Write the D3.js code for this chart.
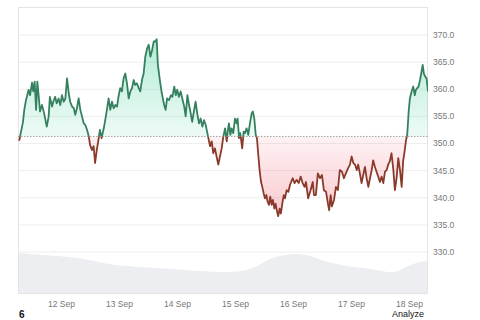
<!doctype html>
<html lang="en">
<head>
<meta charset="utf-8">
<title>Price chart</title>
<script src="https://cdn.jsdelivr.net/npm/d3@7"></script>
<style>
    body { margin: 0; background: #fff; }
    svg { display: block; font-family: "Liberation Sans", Arial, sans-serif; }
</style>
</head>
<body>
<script>

// hours are counted from 12 Sep 00:00
var startDay = new Date(2024, 8, 12);

var hours = [-17.3, -15.8, -15.2, -14.5, -13.4, -12.8, -12.0, -11.5, -10.9, -10.3, -9.8, -9.2, -8.7, -7.9, -7.0,
    -5.9, -5.1, -4.6, -3.7, -3.2, -2.4, -1.8, -1.0, -0.3, 0.4, 1.1, 1.8, 2.5, 3.2, 3.8, 4.6, 5.3, 5.9, 6.6, 7.3,
    8.0, 8.7, 9.4, 10.1, 10.8, 11.5, 12.0, 12.8, 13.5, 14.1, 14.8, 15.4, 16.1, 16.8, 17.7, 18.3, 19.0, 19.7, 20.4,
    21.1, 21.8, 22.5, 23.2, 23.9, 24.5, 25.2, 25.9, 26.6, 27.3, 28.0, 28.7, 29.4, 30.1, 30.7, 31.4, 32.2, 32.8,
    33.5, 34.2, 34.9, 35.6, 36.3, 37.0, 37.7, 38.4, 39.0, 39.6, 40.1, 41.0, 41.7, 42.7, 43.3, 43.9, 44.7, 45.5,
    46.1, 46.9, 47.5, 48.1, 48.8, 49.5, 50.2, 51.0, 51.6, 52.3, 53.0, 53.7, 54.3, 55.0, 55.7, 56.4, 57.1, 57.8,
    58.5, 59.2, 59.9, 60.3, 61.0, 61.7, 62.4, 63.0, 63.7, 64.4, 65.1, 65.8, 66.5, 67.2, 67.9, 68.6, 69.0, 69.5,
    70.1, 70.6, 71.3, 72.0, 72.7, 73.1, 73.7, 74.2, 75.0, 75.6, 76.1, 76.8, 77.5, 78.2, 78.9, 79.4, 80.0, 80.6,
    81.1, 81.6, 82.2, 82.8, 83.3, 83.9, 84.4, 85.0, 85.5, 86.1, 86.6, 87.2, 87.7, 88.3, 88.8, 89.4, 89.9, 90.5,
    91.0, 91.6, 92.2, 92.7, 93.4, 94.1, 94.8, 95.9, 96.7, 97.5, 98.4, 99.2, 100.0, 100.8, 101.4, 102.3, 103.3,
    104.2, 104.7, 105.5, 106.3, 107.2, 108.0, 108.8, 109.7, 110.5, 111.0, 111.6, 112.1, 113.0, 113.8, 114.6,
    115.4, 116.3, 117.1, 117.9, 118.8, 119.6, 120.3, 121.0, 121.7, 122.4, 123.0, 123.7, 124.4, 125.1, 125.8,
    126.5, 127.2, 127.9, 128.6, 129.2, 129.9, 130.6, 131.3, 132.0, 132.7, 133.4, 134.1, 134.8, 135.4, 136.1,
    136.8, 137.5, 138.2, 138.9, 139.6, 140.3, 141.0, 141.6, 142.2, 142.8, 143.3, 143.9, 144.4, 145.1, 145.8,
    146.4, 146.9, 147.4, 148.0, 148.6, 149.1, 149.7, 150.2, 150.8, 151.3, 151.9];

var prices = [350.5, 353.8, 356.2, 358.0, 359.9, 358.9, 361.2, 359.6, 361.4, 356.2, 361.4, 358.6, 355.9, 357.1, 355.6,
    353.1, 355.0, 358.6, 356.8, 357.7, 358.6, 357.4, 358.3, 357.1, 358.9, 357.7, 358.3, 362.0, 359.3, 357.7, 356.8,
    356.5, 355.3, 356.5, 358.3, 356.2, 355.0, 353.7, 353.4, 352.5, 351.3, 349.8, 348.8, 349.5, 346.4, 348.8, 350.4,
    352.5, 351.0, 352.8, 354.3, 356.2, 358.3, 356.2, 357.7, 356.5, 357.1, 356.8, 358.9, 360.2, 359.6, 362.0, 362.9,
    361.1, 358.3, 359.6, 360.2, 361.7, 360.8, 361.1, 360.2, 359.6, 361.7, 362.9, 366.0, 367.5, 368.2, 366.0, 367.2,
    368.8, 368.8, 369.2, 364.5, 361.4, 359.3, 357.1, 356.2, 358.3, 358.0, 358.9, 358.6, 360.5, 358.9, 359.9, 358.6,
    359.6, 358.3, 356.8, 355.0, 358.9, 357.1, 355.5, 354.0, 355.9, 357.7, 355.5, 353.7, 354.6, 353.1, 354.3, 353.4,
    352.5, 351.0, 349.5, 350.4, 348.2, 349.1, 347.6, 346.1, 347.6, 349.1, 351.3, 352.8, 350.4, 352.2, 353.7, 351.6,
    352.8, 351.9, 354.6, 353.7, 354.6, 351.0, 351.9, 349.1, 352.2, 351.9, 352.8, 351.6, 353.7, 355.5, 355.9, 354.6,
    351.6, 351.0, 348.2, 345.1, 342.9, 342.0, 340.8, 339.9, 340.5, 339.3, 338.7, 340.2, 338.7, 339.6, 338.0, 338.9,
    337.5, 336.6, 338.0, 337.1, 338.9, 340.5, 339.9, 341.4, 341.1, 342.4, 343.6, 342.7, 343.3, 342.7, 343.9, 342.7,
    342.0, 342.9, 339.9, 341.4, 342.9, 340.5, 340.5, 344.5, 343.6, 344.2, 341.4, 341.1, 338.9, 337.7, 340.5, 338.4,
    339.6, 342.0, 341.4, 345.1, 344.8, 343.6, 344.5, 345.4, 346.1, 347.6, 346.4, 346.1, 345.1, 346.1, 344.5, 342.7,
    344.2, 345.7, 343.6, 342.0, 343.6, 345.1, 346.9, 345.7, 344.8, 343.9, 342.9, 343.9, 342.7, 344.8, 345.1, 346.1,
    346.7, 348.2, 345.4, 341.4, 343.6, 347.3, 345.1, 342.0, 346.7, 348.5, 350.6, 351.6, 355.9, 358.3, 359.6, 360.5,
    358.9, 359.9, 360.2, 360.5, 361.7, 362.9, 364.5, 362.9, 362.3, 362.0, 359.6];

var prevClose = 351.3;

var volHours = [-17.5, -8.7, 0, 8, 17.4, 24.4, 41, 51.3, 61.7, 75.3, 81.1, 86.5, 93.5, 98.9, 103, 107.2,
    115.4, 123.7, 132, 136.1, 140.3, 145.7, 151.9];
var volumes = [41, 39, 38, 36, 31, 28, 26, 24, 22, 22, 27, 36, 40, 40, 39, 34, 29, 26, 24, 21, 23, 31, 33];

var priceTicks = [330, 335, 340, 345, 350, 355, 360, 365, 370];

var svgW = 480;
var svgH = 320;
var plot = {left: 18, right: 428, top: 7, bottom: 294};

var toDate = (h) => new Date(startDay.getTime() + h * 3600 * 1000);

var xScale = d3.scaleTime()
               .domain([toDate(-17.8), toDate(151.9)])
               .range([plot.left, plot.right]);

var yScale = d3.scaleLinear()
               .domain([330, 370])
               .range([252, 35]);

var vScale = d3.scaleLinear()
               .domain([0, 40])
               .range([plot.bottom, plot.bottom - 40]);

var series = hours.map((h, i) => ({t: toDate(h), v: prices[i]}));
var volSeries = volHours.map((h, i) => ({t: toDate(h), v: volumes[i]}));

var svg = d3.select("body")
            .append("svg")
            .attr("width", svgW)
            .attr("height", svgH);

var defs = svg.append("defs");
var baseY = yScale(prevClose);

defs.append("clipPath").attr("id", "clipUp")
    .append("rect")
    .attr("x", plot.left).attr("y", plot.top)
    .attr("width", plot.right - plot.left).attr("height", baseY - plot.top);
defs.append("clipPath").attr("id", "clipDown")
    .append("rect")
    .attr("x", plot.left).attr("y", baseY)
    .attr("width", plot.right - plot.left).attr("height", plot.bottom - baseY);

var gUp = defs.append("linearGradient")
              .attr("id", "gradUp")
              .attr("gradientUnits", "userSpaceOnUse")
              .attr("x1", 0).attr("x2", 0)
              .attr("y1", yScale(370)).attr("y2", baseY);
gUp.append("stop").attr("offset", 0).attr("stop-color", "rgb(40,200,140)").attr("stop-opacity", 0.36);
gUp.append("stop").attr("offset", 1).attr("stop-color", "rgb(40,200,140)").attr("stop-opacity", 0.08);

var gDown = defs.append("linearGradient")
                .attr("id", "gradDown")
                .attr("gradientUnits", "userSpaceOnUse")
                .attr("x1", 0).attr("x2", 0)
                .attr("y1", baseY).attr("y2", yScale(336));
gDown.append("stop").attr("offset", 0).attr("stop-color", "rgb(238,70,90)").attr("stop-opacity", 0.07);
gDown.append("stop").attr("offset", 1).attr("stop-color", "rgb(238,70,90)").attr("stop-opacity", 0.3);

// grid
svg.append("g")
   .selectAll("line")
   .data(priceTicks)
   .enter()
   .append("line")
   .attr("x1", plot.left)
   .attr("x2", plot.right)
   .attr("y1", d => yScale(d))
   .attr("y2", d => yScale(d))
   .attr("stroke", "#eeeeee")
   .attr("stroke-width", 1);

// volume
svg.append("path")
   .datum(volSeries)
   .attr("fill", "#eceef1")
   .attr("d", d3.area()
                .curve(d3.curveBasis)
                .x(d => xScale(d.t))
                .y0(plot.bottom)
                .y1(d => vScale(d.v)));

svg.append("rect")
   .attr("x", plot.left + 0.5)
   .attr("y", plot.top + 0.5)
   .attr("width", plot.right - plot.left - 1)
   .attr("height", plot.bottom - plot.top - 1)
   .attr("fill", "none")
   .attr("stroke", "#e4e4e4");

var area = d3.area()
             .x(d => xScale(d.t))
             .y0(baseY)
             .y1(d => yScale(d.v));

var line = d3.line()
             .x(d => xScale(d.t))
             .y(d => yScale(d.v));

svg.append("path")
   .datum(series)
   .attr("clip-path", "url(#clipUp)")
   .attr("fill", "url(#gradUp)")
   .attr("d", area);

svg.append("path")
   .datum(series)
   .attr("clip-path", "url(#clipDown)")
   .attr("fill", "url(#gradDown)")
   .attr("d", area);

svg.append("line")
   .attr("x1", plot.left)
   .attr("x2", plot.right)
   .attr("y1", baseY)
   .attr("y2", baseY)
   .attr("stroke", "#a0a0a0")
   .attr("stroke-width", 1)
   .attr("stroke-dasharray", "1.5,1.5");

svg.append("path")
   .datum(series)
   .attr("clip-path", "url(#clipUp)")
   .attr("fill", "none")
   .attr("stroke", "#35805f")
   .attr("stroke-width", 1.8)
   .attr("stroke-linejoin", "round")
   .attr("d", line);

svg.append("path")
   .datum(series)
   .attr("clip-path", "url(#clipDown)")
   .attr("fill", "none")
   .attr("stroke", "#8a3a2a")
   .attr("stroke-width", 1.8)
   .attr("stroke-linejoin", "round")
   .attr("d", line);

// y labels
svg.append("g")
   .selectAll("text")
   .data(priceTicks)
   .enter()
   .append("text")
   .attr("x", 433)
   .attr("y", d => yScale(d))
   .attr("dy", "0.35em")
   .attr("font-size", "8.5px")
   .attr("fill", "#777")
   .text(d => d.toFixed(1));

// x labels
var xAxis = d3.axisBottom(xScale)
              .ticks(d3.timeDay.every(1))
              .tickFormat(d3.timeFormat("%-d %b"))
              .tickSize(0)
              .tickPadding(0);

var xg = svg.append("g")
            .attr("transform", "translate(0,301)")
            .call(xAxis);
xg.select(".domain").remove();
xg.selectAll("text")
  .attr("font-family", "Liberation Sans, Arial, sans-serif")
  .attr("font-size", "8.5px")
  .attr("fill", "#777");

svg.append("text")
   .attr("x", 19)
   .attr("y", 318)
   .attr("font-size", "10px")
   .attr("font-weight", "bold")
   .attr("fill", "#111")
   .text("6");

svg.append("text")
   .attr("x", 424)
   .attr("y", 317)
   .attr("text-anchor", "end")
   .attr("font-size", "9px")
   .attr("fill", "#111")
   .text("Analyze");

</script>
</body>
</html>
